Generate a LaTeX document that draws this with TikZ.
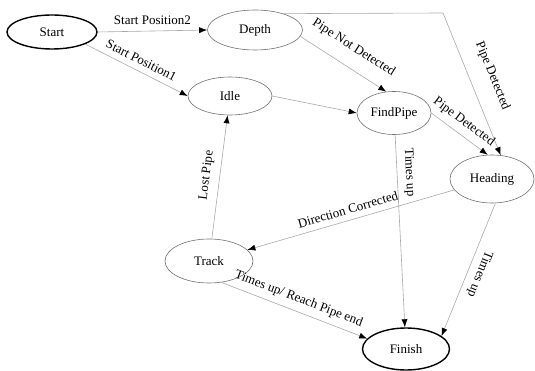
\documentclass[tikz,border=0pt]{standalone}
\usepackage{fontspec}
\setmainfont{Liberation Serif}
\usetikzlibrary{arrows.meta,shapes.geometric}
\definecolor{EdgeGray}{HTML}{A9A9A9}
\definecolor{RimGray}{HTML}{707070}

\begin{document}
\begin{tikzpicture}[
  x=1pt,y=-1pt,
  font=\fontsize{13}{15}\selectfont,
  state/.style={ellipse,draw=RimGray,line width=0.6pt,inner sep=0pt},
  term/.style={state,draw=black,line width=1.4pt},
  trans/.style={-{Latex[length=8pt,width=6pt,color=black]},draw=EdgeGray,line width=0.6pt},
  lbl/.style={sloped,above=4pt,inner sep=2pt}
]
\useasboundingbox (0,0) rectangle (535,371);
% states
\node[term,minimum width=90pt,minimum height=34pt] (start) at (52,32) {Start};
\node[state,minimum width=95pt,minimum height=40pt] (depth) at (255,30) {Depth};
\node[state,minimum width=84pt,minimum height=38pt] (idle) at (230,96) {Idle};
\node[state,minimum width=74pt,minimum height=43pt] (findpipe) at (394,113) {FindPipe};
\node[state,minimum width=84pt,minimum height=48pt] (heading) at (492,179) {Heading};
\node[state,minimum width=88pt,minimum height=44pt] (track) at (209,261) {Track};
\node[term,minimum width=87pt,minimum height=42pt] (finish) at (406,349) {Finish};
\coordinate (bend) at (443,13);
% transitions
\draw[trans] (start.east) -- node[above=4pt,inner sep=2pt] (l1) {Start Position2} (depth.west);
\draw[trans] (start.-20) -- node[lbl] (l2) {Start Position1} (idle.west);
\draw[trans] (depth.-8) -- node[lbl,above=7pt] (l3) {Pipe Not Detected} (findpipe.110);
\draw[trans] (depth.30) -- (bend) -- node[lbl,above=10pt] (l4) {Pipe Detected} (heading.70);
\draw[trans] (idle.east) -- (findpipe.west);
\draw[trans] (findpipe.east) -- node[lbl,pos=0.45] (l5) {Pipe Detected} (heading.100);
\draw[trans] (findpipe) -- node[lbl,pos=0.2] (l6) {Times up} (finish);
\draw[trans] (heading.-82) -- node[lbl,allow upside down] (l7) {Times up} (finish.20);
\draw[trans] (heading) -- node[lbl,above=0pt] (l8) {Direction Corrected} (track);
\draw[trans] (track) -- node[lbl,above=1pt] (l9) {Lost Pipe} (idle);
\draw[trans] (track.-60) -- node[lbl] (l10) {Times up/ Reach Pipe end} (finish.165);
\end{tikzpicture}
\end{document}
